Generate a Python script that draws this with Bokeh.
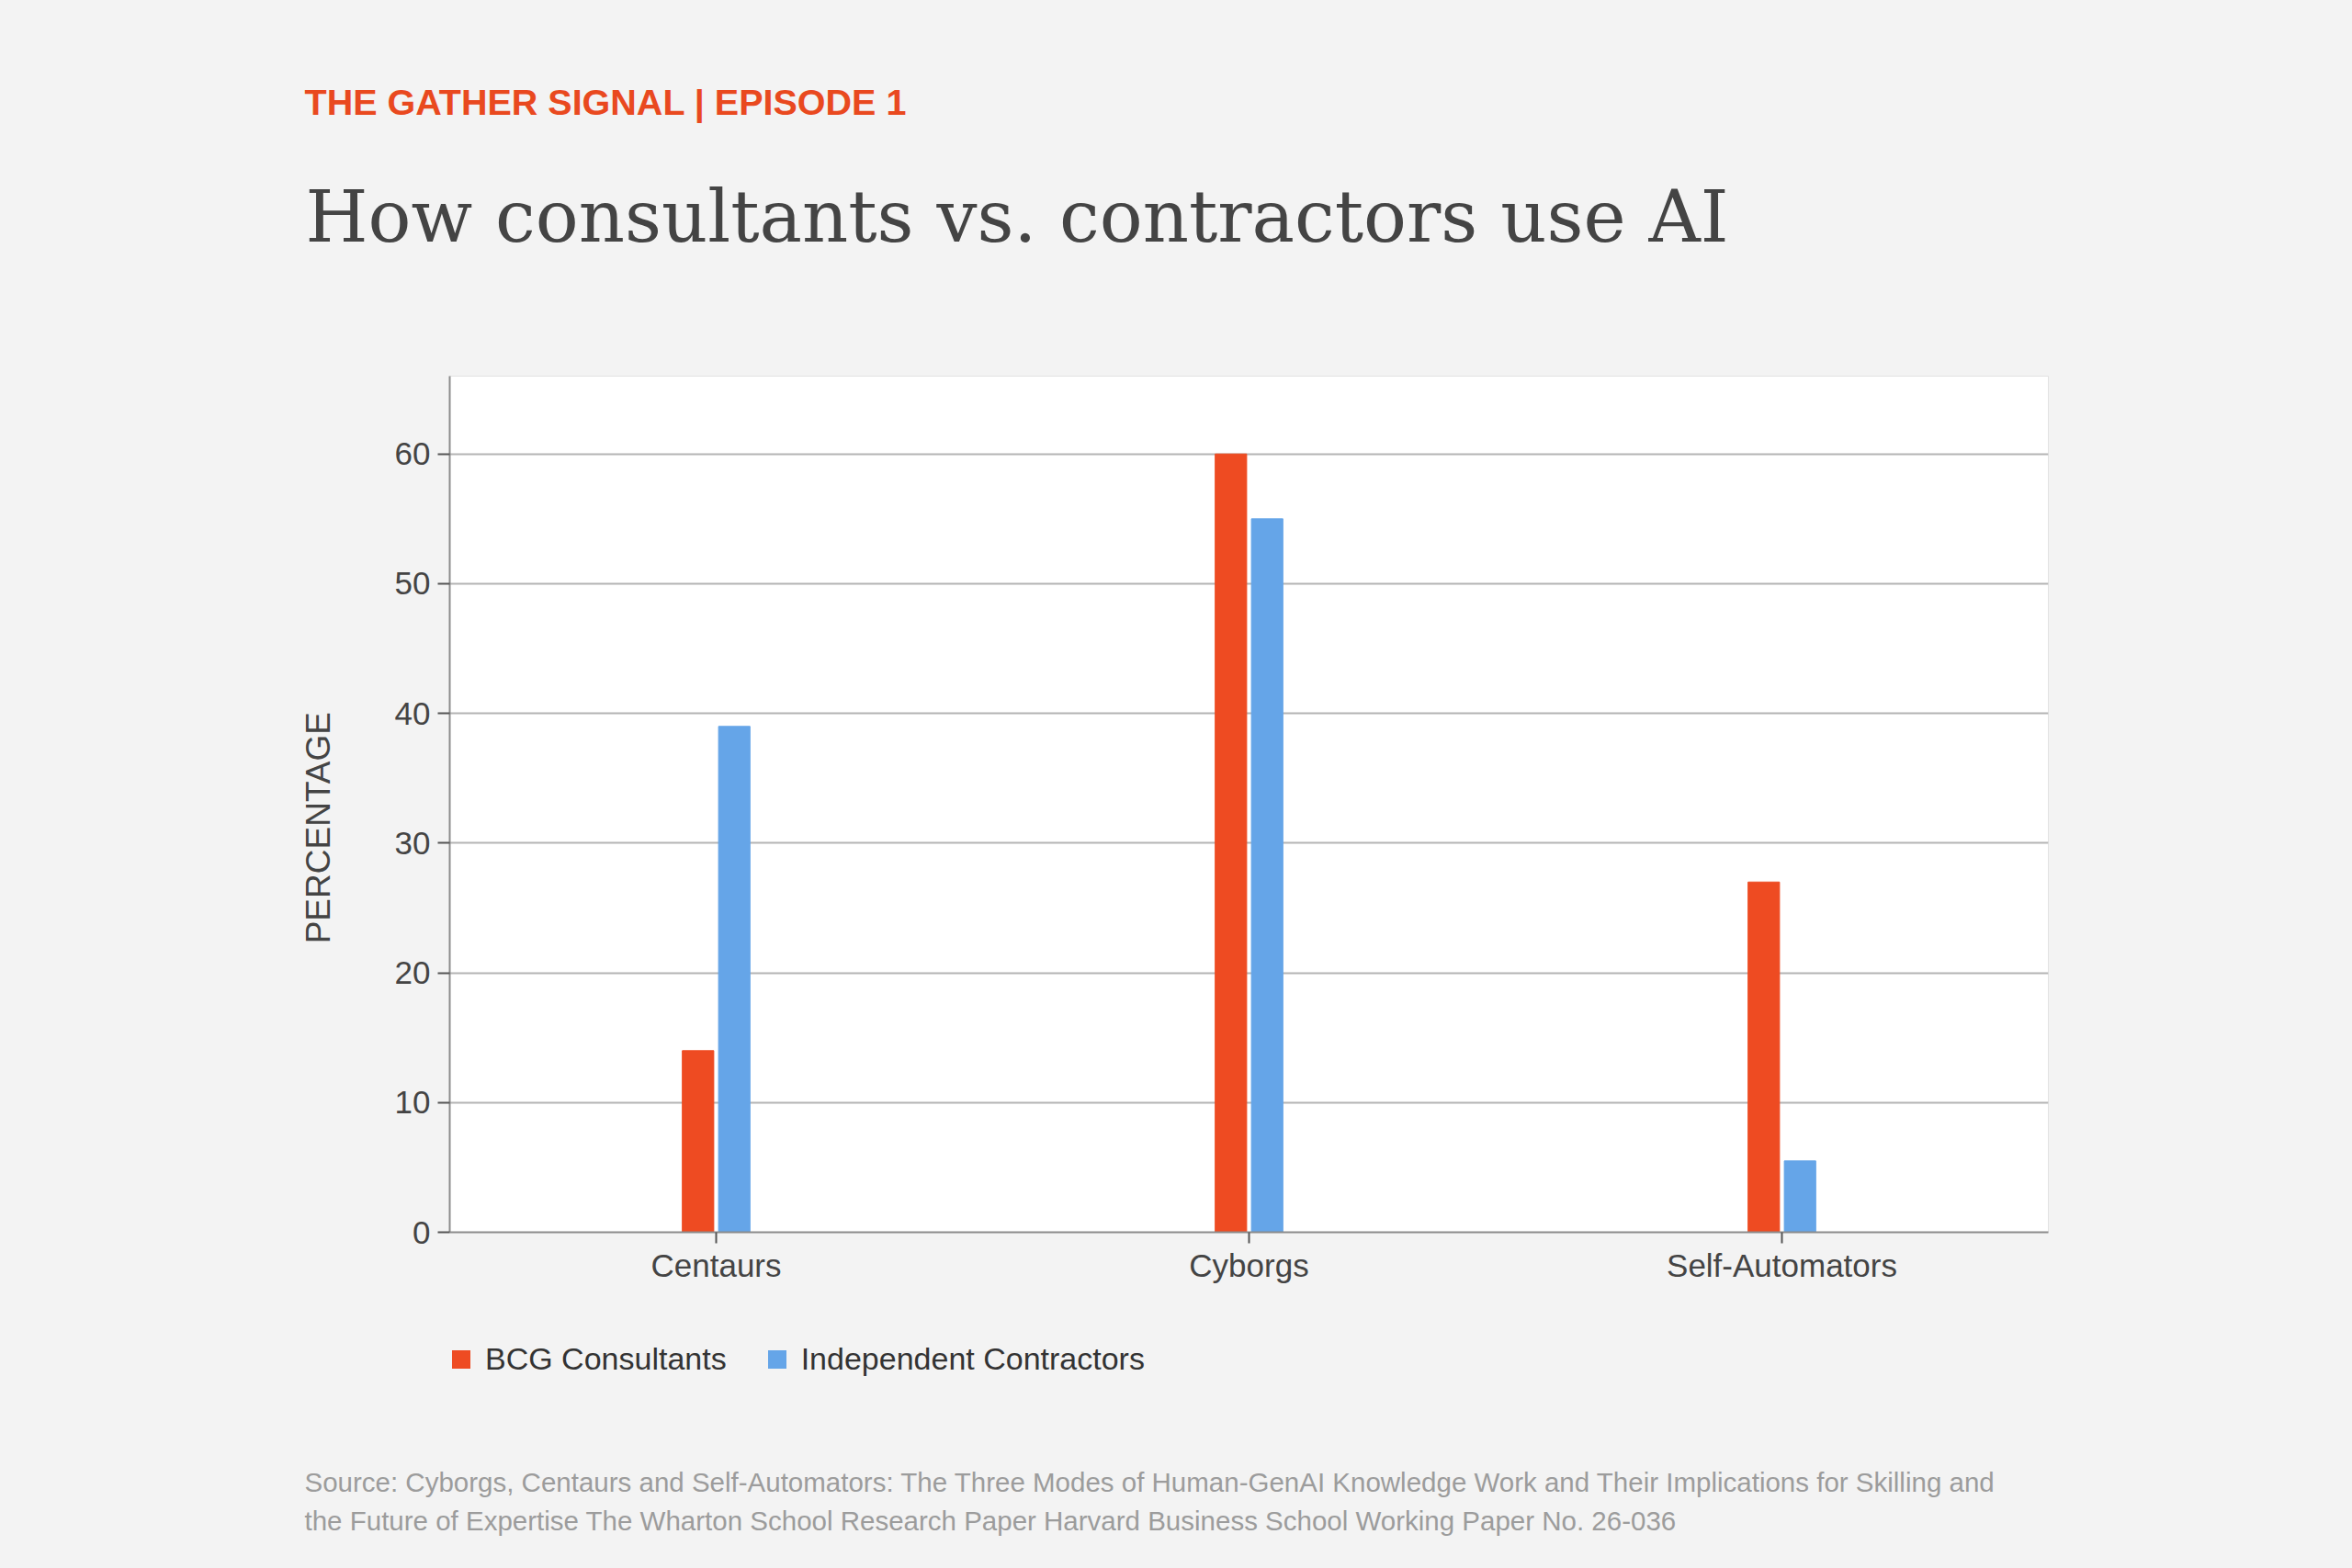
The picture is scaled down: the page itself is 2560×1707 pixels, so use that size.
from bokeh.plotting import figure
from bokeh.layouts import column
from bokeh.models import (ColumnDataSource, FactorRange, Range1d, Legend,
                          LegendItem, FixedTicker, Title)
from bokeh.transform import dodge
from bokeh.embed import file_html
from bokeh.resources import INLINE

# ---- data ----
categories = ["Centaurs", "Cyborgs", "Self-Automators"]
bcg_consultants = [14, 60, 27]
independent_contractors = [39, 55, 5.5]
series_names = ["BCG Consultants", "Independent Contractors"]
y_ticks = [0, 10, 20, 30, 40, 50, 60]

kicker = "THE GATHER SIGNAL | EPISODE 1"
title = "How consultants vs. contractors use AI"
y_label = "PERCENTAGE"
source_lines = [
    "Source: Cyborgs, Centaurs and Self-Automators: The Three Modes of Human-GenAI Knowledge Work and Their Implications for Skilling and",
    "the Future of Expertise The Wharton School Research Paper Harvard Business School Working Paper No. 26-036",
]

RED = "#EE4B22"
BLUE = "#65A5E8"
BG = "#f3f3f3"
SANS = "Liberation Sans"
W = 2560
H_MAIN, H_FOOT = 1448, 259

src = ColumnDataSource(dict(cat=categories, bcg=bcg_consultants, ic=independent_contractors))

# ---- main chart ----
p = figure(width=W, height=H_MAIN, title=None,
           x_range=FactorRange(*categories), y_range=Range1d(0, 66),
           output_backend="svg", toolbar_location=None,
           min_border_left=489, min_border_right=331,
           min_border_top=409, min_border_bottom=H_MAIN - 1341)
p.border_fill_color = BG
p.background_fill_color = "white"
p.outline_line_color = "#e2e2e2"
p.outline_line_width = 1

p.vbar(x=dodge("cat", -0.034, range=p.x_range), top="bcg", width=0.059,
       source=src, fill_color=RED, line_color=RED, line_width=1)
p.vbar(x=dodge("cat", 0.034, range=p.x_range), top="ic", width=0.059,
       source=src, fill_color=BLUE, line_color=BLUE, line_width=1)

p.xgrid.grid_line_color = None
p.ygrid.grid_line_color = "#b4b4b4"
p.ygrid.grid_line_width = 2
p.yaxis.ticker = FixedTicker(ticks=y_ticks)

for ax in (p.xaxis[0], p.yaxis[0]):
    ax.axis_line_color = "#8c8c8c"
    ax.axis_line_width = 2
    ax.major_tick_line_color = "#555555"
    ax.major_tick_line_width = 2
    ax.major_tick_in = 0
    ax.minor_tick_line_color = None
    ax.major_label_text_font = SANS
    ax.major_label_text_color = "#444444"

p.yaxis.major_tick_out = 13
p.yaxis.major_label_standoff = 8
p.yaxis.major_label_text_font_size = "35px"
p.yaxis.axis_label = y_label + "\u00a0" * 5
p.yaxis.axis_label_text_font = SANS
p.yaxis.axis_label_text_font_style = "normal"
p.yaxis.axis_label_text_font_size = "37px"
p.yaxis.axis_label_text_color = "#444444"
p.yaxis.axis_label_standoff = 60

p.xaxis.major_tick_out = 12
p.xaxis.major_label_standoff = 4
p.xaxis.major_label_text_font_size = "35px"

# header titles, stacked upward from the frame
p.add_layout(Title(text=" ", text_font_size="1px", standoff=116), "above")
p.add_layout(Title(text=title, text_font="DejaVu Serif", text_font_size="78px",
                   text_font_style="normal", text_color="#444444",
                   align="left", offset=-157, standoff=20, vertical_align="bottom"), "above")
p.add_layout(Title(text=kicker, text_font=SANS, text_font_size="39.5px",
                   text_font_style="bold", text_color="#E9491F",
                   align="left", offset=-158, standoff=92, vertical_align="bottom"), "above")

# ---- footer: legend + source ----
foot = figure(width=W, height=H_FOOT, title=None,
              x_range=FactorRange(*categories), y_range=Range1d(1000, 1100),
              x_axis_type=None, y_axis_type=None,
              output_backend="svg", toolbar_location=None,
              min_border_left=489, min_border_right=331,
              min_border_top=0, min_border_bottom=H_FOOT - 144)
foot.border_fill_color = BG
foot.background_fill_color = BG
foot.outline_line_color = None
foot.xgrid.visible = False
foot.ygrid.visible = False
# hidden legend proxies for the two series (the legend still draws their swatches)
l1 = foot.vbar(x="cat", top="bcg", width=0.001, source=src, fill_color=RED,
               line_color=None, visible=False)
l2 = foot.vbar(x="cat", top="ic", width=0.001, source=src, fill_color=BLUE,
               line_color=None, visible=False)

legend = Legend(items=[LegendItem(label=series_names[0], renderers=[l1]),
                       LegendItem(label=series_names[1], renderers=[l2])],
                orientation="horizontal", location=(0, 93),
                background_fill_alpha=0, border_line_alpha=0,
                padding=0, margin=0, spacing=42,
                glyph_width=25, glyph_height=25, label_standoff=14,
                label_height=25,
                label_text_font=SANS, label_text_font_size="34px",
                label_text_color="#333333")
foot.add_layout(legend)

foot.add_layout(Title(text=source_lines[0], text_font=SANS, text_font_size="29.5px",
                      text_font_style="normal", text_color="#9c9c9c",
                      align="left", offset=-158, standoff=4, vertical_align="bottom"), "below")
foot.add_layout(Title(text=source_lines[1], text_font=SANS, text_font_size="29.5px",
                      text_font_style="normal", text_color="#9c9c9c",
                      align="left", offset=-158, standoff=10, vertical_align="bottom"), "below")

page = column(p, foot, spacing=0, styles={"background-color": BG})
open("out.html", "w").write(file_html(page, INLINE))
